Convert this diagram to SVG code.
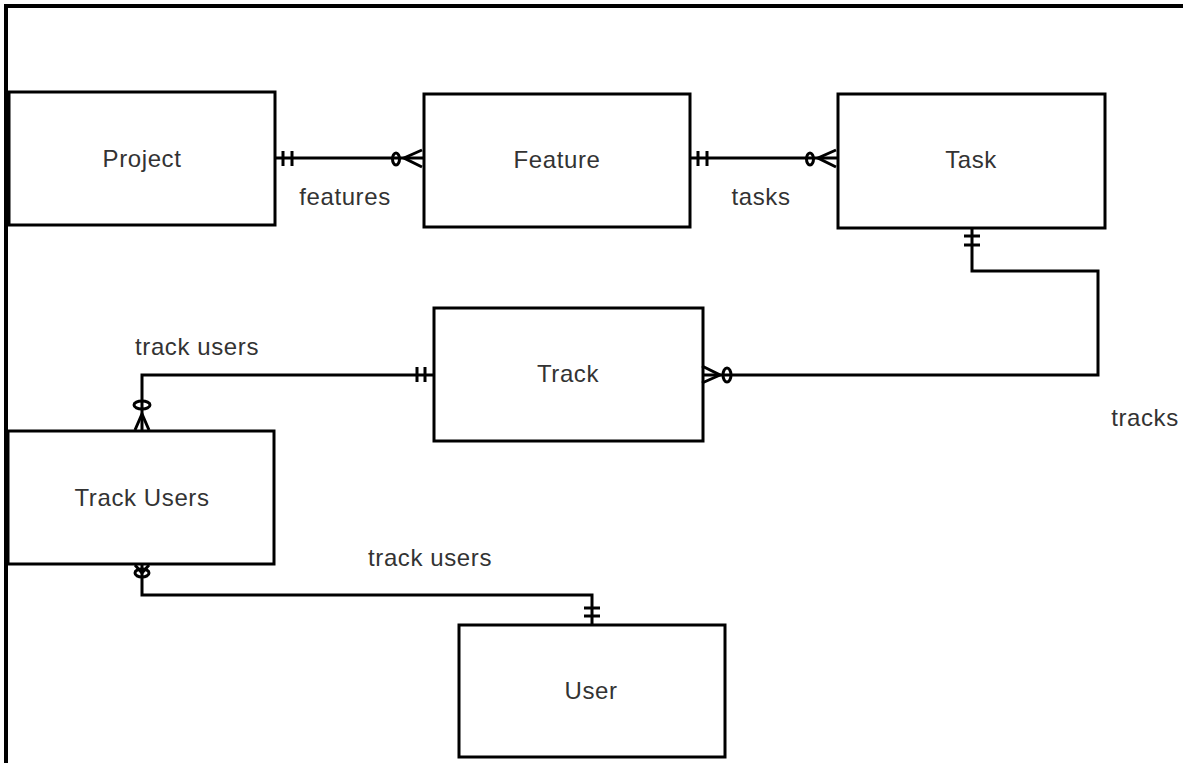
<svg xmlns="http://www.w3.org/2000/svg" width="1183" height="763" viewBox="0 0 1183 763">
<style>
.box{fill:#fff;stroke:#000;stroke-width:3}
.t{font-family:"Liberation Sans",Arial,sans-serif;font-size:24px;fill:#333;text-anchor:middle;dominant-baseline:central;letter-spacing:0.6px}
.c{fill:none;stroke:#000;stroke-width:3}
.m{fill:none;stroke:#000;stroke-width:3}
</style>
<rect width="1183" height="763" fill="#fff"/>
<path d="M6 763 V6 H1183" fill="none" stroke="#000" stroke-width="4"/>
<g id="project"><rect class="box" x="9" y="92" width="266" height="133"/><text class="t" x="142" y="158">Project</text></g>
<g id="feature"><rect class="box" x="424" y="94" width="266" height="133"/><text class="t" x="557" y="159">Feature</text></g>
<g id="task"><rect class="box" x="838" y="94" width="267" height="134"/><text class="t" x="971" y="159">Task</text></g>
<g id="track"><rect class="box" x="434" y="308" width="269" height="133"/><text class="t" x="568" y="373">Track</text></g>
<g id="track-users"><rect class="box" x="8" y="431" width="266" height="133"/><text class="t" x="142" y="497">Track Users</text></g>
<g id="user"><rect class="box" x="459" y="625" width="266" height="132"/><text class="t" x="591" y="690">User</text></g>
<g id="connectors">
<!-- Project - Feature -->
<path class="c" d="M275 158 H424"/>
<path class="m" d="M283 151 V166 M292 151 V166"/>
<ellipse class="m" cx="396" cy="159" rx="3.5" ry="6" fill="#fff"/>
<path class="m" d="M422 150 L404 158 L422 167"/>
<text class="t" x="345" y="196">features</text>
<!-- Feature - Task -->
<path class="c" d="M690 158 H838"/>
<path class="m" d="M698 151 V166 M707 151 V166"/>
<ellipse class="m" cx="810" cy="159" rx="3.5" ry="6" fill="#fff"/>
<path class="m" d="M836 150 L818 158 L836 167"/>
<text class="t" x="761" y="196">tasks</text>
<!-- Task - Track -->
<path class="c" d="M972 228 V271 H1098 V375 H703"/>
<path class="m" d="M964 236 H980 M964 245 H980"/>
<path class="m" d="M702 366 L720 375 L702 383"/>
<ellipse class="m" cx="727" cy="375" rx="4" ry="7" fill="#fff"/>
<text class="t" x="1145" y="417">tracks</text>
<!-- Track - Track Users -->
<path class="c" d="M434 375 H142 V431"/>
<path class="m" d="M417 367 V382 M425 367 V382"/>
<ellipse class="m" cx="142" cy="405" rx="8" ry="4" fill="#fff"/>
<path class="m" d="M135 430 L142 414 L149 430"/>
<text class="t" x="197" y="346">track users</text>
<!-- Track Users - User -->
<path class="c" d="M142 564 V595 H592 V625"/>
<path class="m" d="M135 565 L142 573 L149 565"/>
<ellipse class="m" cx="142" cy="573" rx="7" ry="4" fill="#fff"/>
<path class="m" d="M584 608 H600 M584 616 H600"/>
<text class="t" x="430" y="557">track users</text>
</g>
</svg>
